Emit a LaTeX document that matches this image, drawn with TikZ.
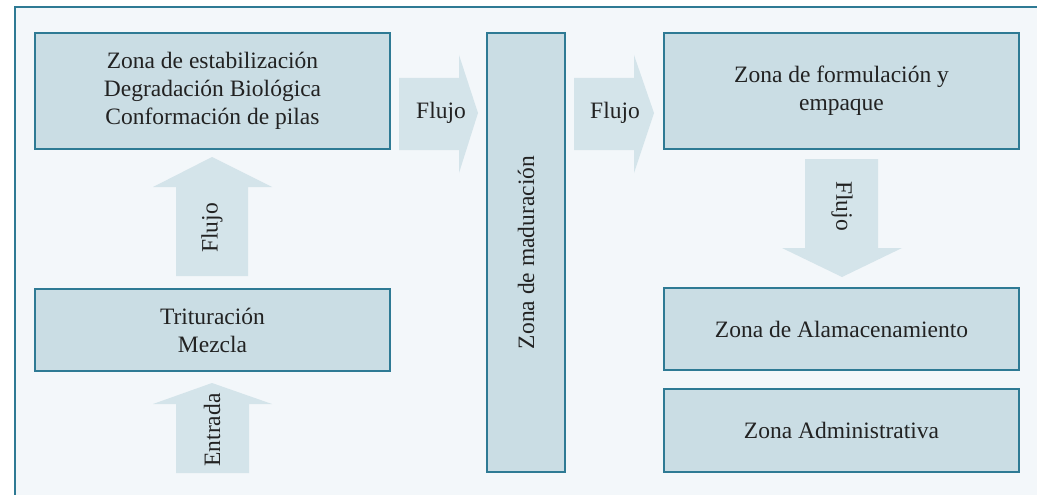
\documentclass[tikz,border=0pt]{standalone}
\usepackage{fontspec}
\setmainfont{Liberation Serif}
\definecolor{frame}{HTML}{2E7A94}
\definecolor{bg}{HTML}{F3F7FA}
\definecolor{boxfill}{HTML}{CADDE4}
\definecolor{arrfill}{HTML}{D4E4EA}
\definecolor{txt}{HTML}{222222}
\begin{document}
\begin{tikzpicture}[x=1pt,y=-1pt,
  zone/.style={draw=frame,line width=2pt,fill=boxfill,align=center,text=txt,font=\fontsize{23.5}{28}\selectfont,inner sep=0pt},
  blockarrow/.style={fill=arrfill,draw=none},
  lbl/.style={text=txt,font=\fontsize{23.5}{28}\selectfont,inner sep=0pt}]
\useasboundingbox (0,0) rectangle (1037,495);
\fill[white] (0,0) rectangle (1037,495);
\draw[frame,line width=2.5pt,fill=bg] (15,7) rectangle (1060,520);
% block arrows
\fill[blockarrow] (176,276) -- (176,187) -- (153,187) -- (212,157) -- (272,187) -- (248,187) -- (248,276) -- cycle;
\fill[blockarrow] (176,473) -- (176,404) -- (153,404) -- (212,383) -- (272,404) -- (249,404) -- (249,473) -- cycle;
\fill[blockarrow] (399,78) -- (459,78) -- (459,55) -- (478,113) -- (459,173) -- (459,150) -- (399,150) -- cycle;
\fill[blockarrow] (574,78) -- (634,78) -- (634,55) -- (654,113) -- (634,173) -- (634,150) -- (574,150) -- cycle;
\fill[blockarrow] (805,159) -- (878,159) -- (878,248) -- (902,248) -- (842,277) -- (782,248) -- (805,248) -- cycle;
% boxes
\node[zone,minimum width=355pt,minimum height=116pt] (est) at (212.5,91) {Zona de estabilización\\Degradación Biológica\\Conformación de pilas};
\node[zone,minimum width=355pt,minimum height=82pt] (tri) at (212.5,330) {Trituración\\Mezcla};
\node[zone,minimum width=78pt,minimum height=439pt] (mad) at (526,252.5) {};
\node[lbl,rotate=90] (madl) at (mad.center) {Zona de maduración};
\node[zone,minimum width=355pt,minimum height=116pt] (form) at (841.5,91) {Zona de formulación y\\empaque};
\node[zone,minimum width=355pt,minimum height=82pt] (alm) at (841.5,329) {Zona de Alamacenamiento};
\node[zone,minimum width=355pt,minimum height=83pt] (adm) at (841.5,430.5) {Zona Administrativa};
% arrow labels
\node[lbl,rotate=90] (f1) at (212,228) {Flujo};
\node[lbl,rotate=90] (ent) at (212,430) {Entrada};
\node[lbl] (f2) at (441,113) {Flujo};
\node[lbl] (f3) at (615,113) {Flujo};
\node[lbl,rotate=-90] (f4) at (842,206) {Flujo};
\end{tikzpicture}
\end{document}
